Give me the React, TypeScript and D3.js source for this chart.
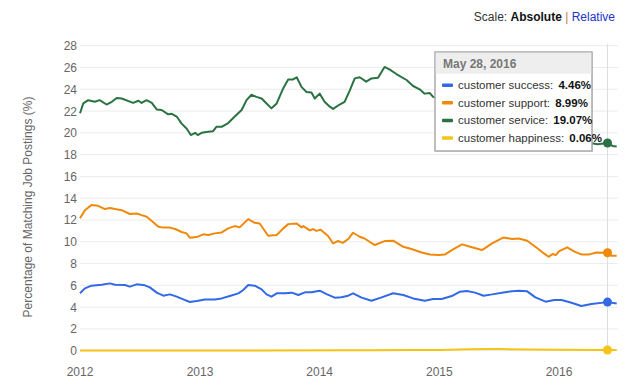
import React from 'react';
import * as d3 from 'd3';

// [date, % of postings]
const successData: [string, number][] = [
  ['2012-01-01', 5.27], ['2012-01-16', 5.72], ['2012-02-05', 5.97], ['2012-03-07', 6.06], ['2012-04-01', 6.18],
  ['2012-04-17', 6.06], ['2012-05-17', 6.03], ['2012-06-01', 5.88], ['2012-06-22', 6.09], ['2012-07-17', 6.0],
  ['2012-08-01', 5.81], ['2012-08-22', 5.33], ['2012-09-11', 5.05], ['2012-10-01', 5.17], ['2012-10-22', 4.96],
  ['2012-11-11', 4.71], ['2012-12-01', 4.47], ['2012-12-22', 4.56], ['2013-01-16', 4.71], ['2013-02-15', 4.71],
  ['2013-03-08', 4.8], ['2013-04-02', 5.02], ['2013-04-28', 5.26], ['2013-05-13', 5.57], ['2013-05-28', 6.03],
  ['2013-06-17', 5.97], ['2013-07-08', 5.63], ['2013-07-23', 5.17], ['2013-08-07', 4.96], ['2013-08-23', 5.27],
  ['2013-09-17', 5.27], ['2013-10-08', 5.33], ['2013-10-28', 5.11], ['2013-11-17', 5.36], ['2013-12-07', 5.36],
  ['2014-01-01', 5.51], ['2014-01-22', 5.2], ['2014-02-16', 4.87], ['2014-03-08', 4.9], ['2014-03-29', 5.05],
  ['2014-04-13', 5.27], ['2014-05-09', 4.87], ['2014-06-08', 4.59], ['2014-07-09', 4.9], ['2014-08-13', 5.27],
  ['2014-09-13', 5.11], ['2014-10-13', 4.8], ['2014-11-18', 4.59], ['2014-12-13', 4.74], ['2015-01-08', 4.74],
  ['2015-02-08', 5.02], ['2015-03-05', 5.42], ['2015-03-26', 5.48], ['2015-04-20', 5.33], ['2015-05-16', 5.05],
  ['2015-06-11', 5.17], ['2015-07-11', 5.33], ['2015-08-11', 5.45], ['2015-08-31', 5.51], ['2015-09-26', 5.45],
  ['2015-10-21', 4.9], ['2015-11-21', 4.5], ['2015-12-17', 4.65], ['2016-01-09', 4.65], ['2016-02-08', 4.4],
  ['2016-03-09', 4.1], ['2016-04-09', 4.28], ['2016-05-28', 4.46], ['2016-06-25', 4.34],
];

const supportData: [string, number][] = [
  ['2012-01-01', 12.15], ['2012-01-16', 12.9], ['2012-02-05', 13.37], ['2012-02-25', 13.3], ['2012-03-17', 13.0],
  ['2012-04-01', 13.1], ['2012-04-17', 13.0], ['2012-05-07', 12.9], ['2012-06-01', 12.55], ['2012-06-22', 12.6],
  ['2012-07-07', 12.45], ['2012-07-22', 12.3], ['2012-08-07', 11.9], ['2012-08-27', 11.38], ['2012-09-11', 11.3],
  ['2012-10-01', 11.3], ['2012-10-17', 11.17], ['2012-11-06', 10.9], ['2012-11-21', 10.77], ['2012-12-01', 10.37],
  ['2012-12-22', 10.43], ['2013-01-11', 10.68], ['2013-01-26', 10.62], ['2013-02-15', 10.77], ['2013-03-08', 10.86],
  ['2013-03-28', 11.23], ['2013-04-17', 11.44], ['2013-05-02', 11.32], ['2013-05-28', 12.08], ['2013-06-17', 11.74],
  ['2013-07-02', 11.68], ['2013-07-28', 10.55], ['2013-08-23', 10.62], ['2013-09-12', 11.23], ['2013-09-27', 11.62],
  ['2013-10-23', 11.68], ['2013-11-07', 11.32], ['2013-11-12', 11.44], ['2013-12-02', 11.04], ['2013-12-12', 11.17],
  ['2013-12-22', 11.0], ['2014-01-04', 11.1], ['2014-01-26', 10.55], ['2014-02-11', 9.85], ['2014-02-26', 10.07],
  ['2014-03-13', 9.9], ['2014-03-29', 10.25], ['2014-04-13', 10.83], ['2014-05-03', 10.46], ['2014-05-18', 10.3],
  ['2014-06-18', 9.7], ['2014-07-18', 10.06], ['2014-08-13', 10.1], ['2014-09-13', 9.54], ['2014-10-08', 9.33],
  ['2014-11-08', 9.02], ['2014-12-03', 8.84], ['2014-12-29', 8.78], ['2015-01-19', 8.84], ['2015-02-08', 9.24],
  ['2015-03-11', 9.76], ['2015-04-05', 9.54], ['2015-05-11', 9.24], ['2015-06-11', 9.85], ['2015-07-16', 10.4],
  ['2015-08-11', 10.25], ['2015-08-31', 10.3], ['2015-09-26', 10.1], ['2015-10-27', 9.4], ['2015-11-16', 8.93],
  ['2015-11-30', 8.62], ['2015-12-12', 8.87], ['2015-12-22', 8.78], ['2016-01-02', 9.15], ['2016-01-26', 9.49],
  ['2016-02-17', 9.1], ['2016-03-09', 8.84], ['2016-04-03', 8.84], ['2016-04-24', 9.02], ['2016-05-28', 8.99],
  ['2016-06-09', 8.72], ['2016-06-25', 8.72],
];

const serviceData: [string, number][] = [
  ['2012-01-01', 21.8], ['2012-01-11', 22.7], ['2012-01-26', 23.0], ['2012-02-15', 22.85], ['2012-03-01', 23.0],
  ['2012-03-22', 22.6], ['2012-04-07', 22.85], ['2012-04-22', 23.2], ['2012-05-07', 23.15], ['2012-06-11', 22.75],
  ['2012-06-27', 22.95], ['2012-07-07', 22.75], ['2012-07-22', 23.0], ['2012-08-07', 22.75], ['2012-08-22', 22.15],
  ['2012-09-06', 22.1], ['2012-09-26', 21.7], ['2012-10-07', 21.75], ['2012-10-22', 21.5], ['2012-11-06', 20.85],
  ['2012-11-21', 20.4], ['2012-12-04', 19.8], ['2012-12-17', 20.0], ['2012-12-25', 19.8], ['2013-01-06', 20.0],
  ['2013-01-26', 20.1], ['2013-02-10', 20.15], ['2013-02-20', 20.55], ['2013-03-08', 20.55], ['2013-03-28', 20.9],
  ['2013-04-17', 21.5], ['2013-05-08', 22.1], ['2013-05-23', 23.0], ['2013-06-07', 23.5], ['2013-06-22', 23.3],
  ['2013-07-08', 23.15], ['2013-07-23', 22.7], ['2013-08-07', 22.25], ['2013-08-23', 22.7], ['2013-09-12', 24.1],
  ['2013-09-27', 24.9], ['2013-10-12', 24.9], ['2013-10-23', 25.1], ['2013-11-07', 24.2], ['2013-11-22', 23.75],
  ['2013-12-07', 23.7], ['2013-12-17', 23.15], ['2014-01-01', 23.6], ['2014-01-16', 22.85], ['2014-02-01', 22.4],
  ['2014-02-11', 22.2], ['2014-03-03', 22.6], ['2014-03-18', 22.85], ['2014-04-03', 23.9], ['2014-04-18', 25.0],
  ['2014-05-03', 25.1], ['2014-05-23', 24.7], ['2014-06-08', 25.0], ['2014-06-28', 25.05], ['2014-07-18', 26.05],
  ['2014-08-03', 25.8], ['2014-08-23', 25.4], ['2014-09-23', 24.85], ['2014-10-13', 24.3], ['2014-11-02', 24.0],
  ['2014-11-17', 23.6], ['2014-12-03', 23.65], ['2014-12-13', 23.3], ['2015-02-01', 22.8], ['2015-04-01', 22.2],
  ['2015-06-01', 21.6], ['2015-08-01', 21.0], ['2015-10-01', 20.5], ['2015-12-01', 20.0], ['2016-02-01', 19.6],
  ['2016-04-09', 19.05], ['2016-04-28', 18.95], ['2016-05-28', 19.07], ['2016-06-12', 18.8], ['2016-06-25', 18.75],
];

const happinessData: [string, number][] = [
  ['2012-01-01', 0.02], ['2014-03-01', 0.03], ['2014-06-01', 0.05], ['2014-10-01', 0.06], ['2015-01-01', 0.07],
  ['2015-04-01', 0.14], ['2015-07-01', 0.15], ['2015-10-01', 0.12], ['2016-01-01', 0.09], ['2016-05-28', 0.06],
  ['2016-06-25', 0.06],
];

const seriesNames = ['customer success', 'customer support', 'customer service', 'customer happiness'];
const seriesColors = ['#3169e6', '#f0890a', '#2a7242', '#f5c415'];
const seriesData = [successData, supportData, serviceData, happinessData];
const hoverDate = '2016-05-28';
const hoverLabel = 'May 28, 2016';
const yTicks = d3.range(0, 29, 2);
const xTickYears = [2012, 2013, 2014, 2015, 2016];

const parse = d3.timeParse('%Y-%m-%d');
const font = 'Arial, "Liberation Sans", Helvetica, sans-serif';

export default function App() {
  const x = d3.scaleTime()
    .domain([new Date(2012, 0, 1), new Date(2016, 0, 1)])
    .range([80, 559]);
  const y = d3.scaleLinear().domain([0, 28]).range([350.7, 45.7]);
  const right = 618;

  const line = d3.line<[string, number]>()
    .x(d => x(parse(d[0]) as Date))
    .y(d => y(d[1]));

  const hx = x(parse(hoverDate) as Date);
  const hoverVals = seriesData.map(s => s.find(d => d[0] === hoverDate)![1]);

  const tipX = 435, tipY = 52, tipW = 157, tipH = 99;

  return (
    <svg width={640} height={384} style={{ position: 'absolute', left: 0, top: 0, fontFamily: font }}>
      <rect width={640} height={384} fill="#fff" />
      <text x={615} y={21} textAnchor="end" fontSize={12} fill="#333">
        <tspan>Scale: </tspan>
        <tspan fontWeight="bold" fill="#111">Absolute</tspan>
        <tspan fill="#c7793f"> | </tspan>
        <tspan fill="#2233cc">Relative</tspan>
      </text>

      {yTicks.map(t => (
        <g key={t}>
          <line x1={80} x2={right} y1={y(t)} y2={y(t)} stroke="#ececec" />
          <text x={77} y={y(t) + 4.5} textAnchor="end" fontSize={12} fill="#666">{t}</text>
        </g>
      ))}
      {xTickYears.map(yr => (
        <text key={yr} x={x(new Date(yr, 0, 1))} y={376} textAnchor="middle" fontSize={12} fill="#666">{yr}</text>
      ))}
      <text transform="translate(32,207) rotate(-90)" textAnchor="middle" fontSize={12} fill="#666">
        Percentage of Matching Job Postings (%)
      </text>

      <line x1={hx} x2={hx} y1={44} y2={350.7} stroke="#dedede" />

      {seriesData.map((s, i) => (
        <path key={i} d={line(s) || ''} fill="none" stroke={seriesColors[i]} strokeWidth={2} strokeLinejoin="round" />
      ))}
      {hoverVals.map((v, i) => (
        <circle key={i} cx={hx} cy={y(v)} r={4.5} fill={seriesColors[i]} />
      ))}

      <g>
        <rect x={tipX + 1} y={tipY + 1} width={tipW} height={tipH} fill="rgba(0,0,0,0.12)" />
        <rect x={tipX} y={tipY} width={tipW} height={tipH} fill="#fff" stroke="#aaa" strokeWidth={1.5} />
        <rect x={tipX + 0.75} y={tipY + 0.75} width={tipW - 1.5} height={21} fill="#eeeeee" />
        <text x={tipX + 8} y={tipY + 16} fontSize={12} fontWeight="bold" fill="#777">{hoverLabel}</text>
        {seriesNames.map((name, i) => {
          const ry = tipY + 33 + i * 17.6;
          return (
            <g key={name}>
              <rect x={tipX + 7} y={ry - 1.5} width={11} height={3.5} rx={1} fill={seriesColors[i]} />
              <text x={tipX + 23} y={ry + 4} fontSize={11.5} fill="#333">
                <tspan>{name}: </tspan>
                <tspan fontWeight="bold" fill="#111" dx={2}>{hoverVals[i].toFixed(2)}%</tspan>
              </text>
            </g>
          );
        })}
      </g>
    </svg>
  );
}
